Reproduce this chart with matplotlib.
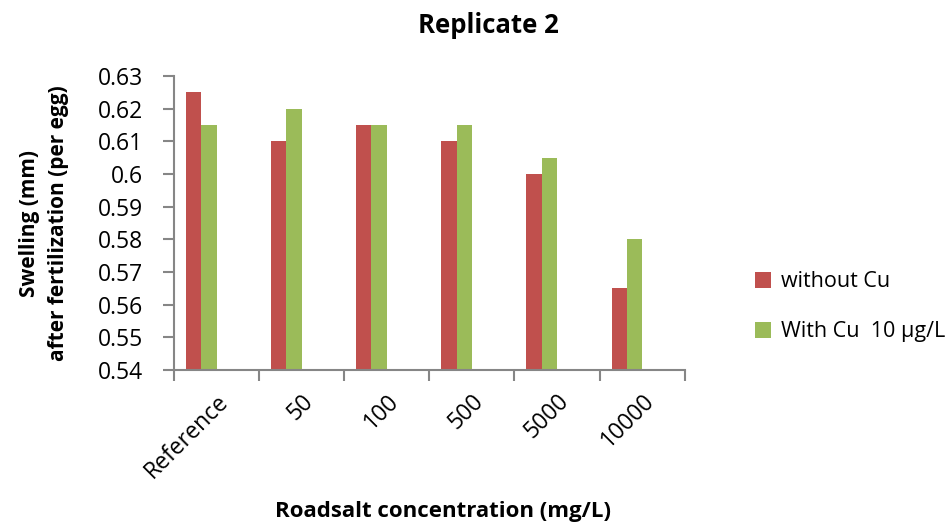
import numpy as np
import matplotlib.pyplot as plt

categories = ['Reference', '50', '100', '500', '5000', '10000']
without_cu = [0.625, 0.61, 0.615, 0.61, 0.60, 0.565]
with_cu = [0.615, 0.62, 0.615, 0.615, 0.605, 0.58]

plt.rcParams['font.family'] = ['Open Sans', 'DejaVu Sans']

fig = plt.figure(figsize=(9.51, 5.29), dpi=100)
ax = fig.add_axes([0.183, 0.3006, 0.537, 0.5554])

x = np.arange(len(categories)) + 0.5
w = 0.18
ax.bar(x - 2 * w, without_cu, w, align='edge', color='#C0504D', label='without Cu')
ax.bar(x - w, with_cu, w, align='edge', color='#9BBB59', label='With Cu  10 µg/L')

ax.set_xlim(0, len(categories))
ax.set_ylim(0.54, 0.63)
ax.set_yticks(np.arange(0.54, 0.6301, 0.01))
ax.set_yticklabels(['0.54', '0.55', '0.56', '0.57', '0.58', '0.59', '0.6', '0.61', '0.62', '0.63'])

ax.set_xticks(np.arange(len(categories) + 1))
ax.set_xticklabels([])
ax.set_xticks(x, minor=True)
ax.set_xticklabels(categories, minor=True, rotation=45, ha='right', rotation_mode='anchor', fontsize=16.5)
ax.tick_params(axis='x', which='minor', length=0, pad=14)
ax.tick_params(axis='x', which='major', length=8, width=1.5, color='#868686')
ax.tick_params(axis='y', labelsize=16.5, length=8, width=1.5, color='#868686', pad=14)

for s in ['top', 'right']:
    ax.spines[s].set_visible(False)
for s in ['left', 'bottom']:
    ax.spines[s].set_color('#868686')
    ax.spines[s].set_linewidth(1.5)

fig.text(0.514, 0.952, 'Replicate 2', ha='center', va='center', fontsize=18.5, fontweight='bold')
ax.set_ylabel('Swelling (mm)\nafter fertilization (per egg)', fontsize=15, fontweight='bold', linespacing=1.55)
ax.yaxis.set_label_coords(-0.205, 0.5)
fig.text(0.466, 0.022, 'Roadsalt concentration (mg/L)', ha='center', fontsize=16, fontweight='bold')

ax.legend(loc='center left', bbox_to_anchor=(1.1, 0.215), frameon=False, fontsize=15.5,
          handlelength=0.75, handleheight=0.75, labelspacing=1.35, handletextpad=0.45)

fig.savefig('out.png', dpi=100)
